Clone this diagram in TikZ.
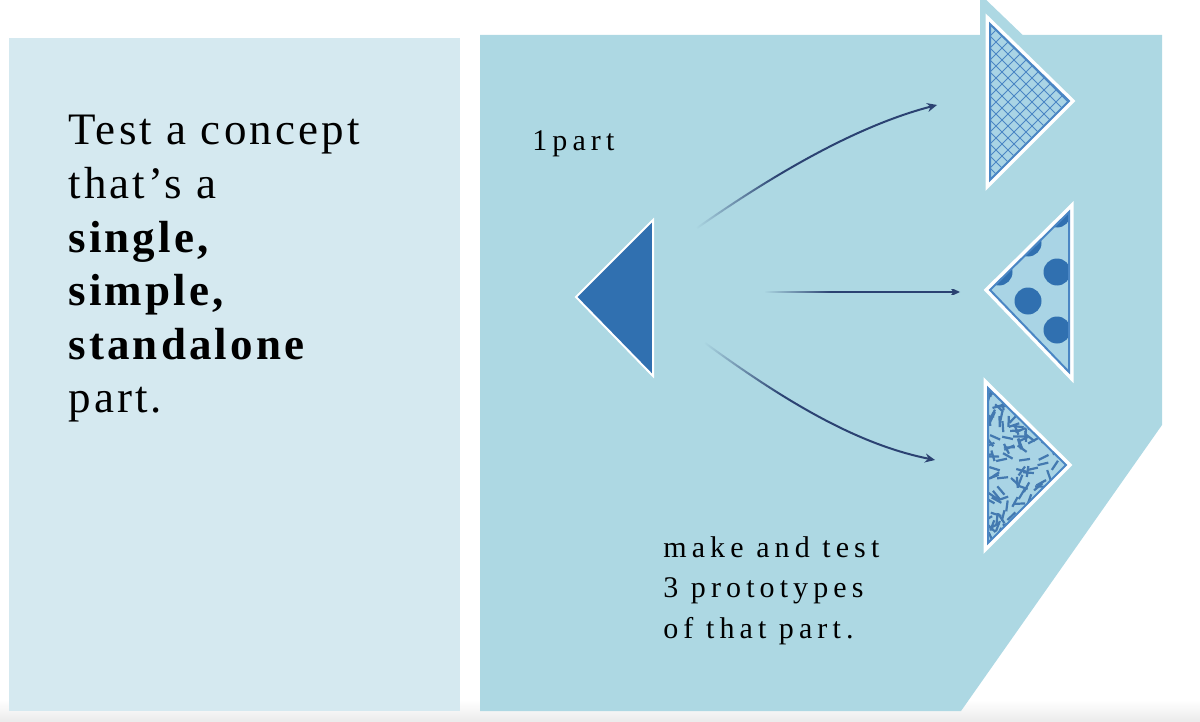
\documentclass[tikz,border=0pt]{standalone}
\usepackage{fontspec}
\setmainfont{Liberation Serif}
\newfontfamily\conceptfont[LetterSpace=7]{Liberation Serif}
\newfontfamily\protofont[LetterSpace=17]{Liberation Serif}
\usetikzlibrary{arrows.meta,fadings}
\definecolor{leftpanel}{HTML}{D5E9F0}
\definecolor{rightpanel}{HTML}{ADD8E3}
\definecolor{partblue}{HTML}{3070B0}
\definecolor{linkblue}{HTML}{2B4272}
\definecolor{hatchblue}{HTML}{4A86C4}
\definecolor{protofill}{HTML}{A9D4E5}
\pgfdeclarehorizontalshading{tailshade}{100bp}{color(0bp)=(black); color(25bp)=(black); color(42bp)=(white); color(100bp)=(white)}
\tikzfading[name=tailfade, shading=tailshade]
\begin{document}
\begin{tikzpicture}[x=0.5pt,y=-0.5pt,
    link/.style={draw=linkblue, line width=1pt, -{Stealth[length=5pt,width=4.5pt]}, path fading=tailfade},
    halo/.style={draw=white, line width=4.5pt, line join=miter},
    protoedge/.style={draw=hatchblue, line width=1pt},
    hatch/.style={draw=hatchblue, line width=0.5pt},
    fleck/.style={draw=hatchblue!90!black, line width=1.1pt},
    concepttext/.style={anchor=north west, align=left, inner sep=0pt, font=\conceptfont\fontsize{22.5}{26.8}\selectfont},
    prototext/.style={anchor=north west, align=left, inner sep=0pt, font=\protofont\fontsize{15}{20.25}\selectfont}]
  \useasboundingbox (0,0) rectangle (1200,722);
  \shade[top color=white, bottom color=black!8] (0,700) rectangle (1200,722);
  \fill[leftpanel] (9,38) rectangle (460,711);
  \fill[rightpanel] (480,35) -- (1162,35) -- (1162,425) -- (961,711) -- (480,711) -- cycle;
  \fill[rightpanel, rounded corners=3pt] (980,40) -- (980,-6) -- (1030,42) -- cycle;

  % the part
  \draw[fill=partblue, draw=white, line width=1pt] (653,220) -- (576,297) -- (653,376) -- cycle;
  \coordinate (part) at (615,297);

  % prototype with a grid
  \draw[halo] (990,24) -- (1069,101) -- (990,180) -- cycle;
  \begin{scope}
    \clip (990,24) -- (1069,101) -- (990,180) -- cycle;
    \fill[protofill] (980,10) rectangle (1080,190);
    \foreach \c in {-168,-156,...,12} {
      \draw[hatch] (990+\c,24) -- ++(180,180);
      \draw[hatch] (990+\c,180) -- ++(180,-180);
    }
  \end{scope}
  \draw[protoedge] (990,24) -- (1069,101) -- (990,180) -- cycle;

  % prototype with dots
  \draw[halo] (990,290) -- (1069,212) -- (1069,372) -- cycle;
  \begin{scope}
    \clip (990,290) -- (1069,212) -- (1069,372) -- cycle;
    \fill[protofill] (980,200) rectangle (1080,380);
    \foreach \p in {(1057,214),(1028,243),(999,272),(1057,272),(1028,301),(1057,330)}
      \fill[partblue] \p circle (13.5);
  \end{scope}
  \draw[protoedge] (990,290) -- (1069,212) -- (1069,372) -- cycle;

  % prototype with flecks
  \draw[halo] (988,388) -- (1066,465) -- (988,543) -- cycle;
  \begin{scope}
    \clip (988,388) -- (1066,465) -- (988,543) -- cycle;
    \fill[protofill] (980,380) rectangle (1080,550);
    \pgfmathsetseed{42}
    \foreach \k in {1,...,190} {
      \pgfmathsetmacro\fx{982+84*rnd}
      \pgfmathsetmacro\fy{382+166*rnd}
      \pgfmathsetmacro\fa{180*rnd}
      \draw[fleck] (\fx,\fy) -- ++(\fa:11);
    }
  \end{scope}
  \draw[protoedge] (988,388) -- (1066,465) -- (988,543) -- cycle;

  \coordinate (tailA) at (697,228);
  \coordinate (tipA) at (937,105);
  \coordinate (tailB) at (765,292);
  \coordinate (tipB) at (960,292);
  \coordinate (tailC) at (705,343);
  \coordinate (tipC) at (935,460);
  \draw[link] (tailA) .. controls (780,170) and (860,125) .. (tipA);
  \draw[link] (tailB) -- (tipB);
  \draw[link] (tailC) .. controls (790,405) and (860,445) .. (tipC);

  \node[concepttext] (concept) at (68,115)
    {Test a concept\\that’s a\\\textbf{single,}\\\textbf{simple,}\\\textbf{standalone}\\part.};
  \node[prototext, anchor=base west] (onepart) at (532,150) {1part};
  \node[prototext] (protos) at (663,536) {make and test\\3 prototypes\\of that part.};
\end{tikzpicture}
\end{document}
